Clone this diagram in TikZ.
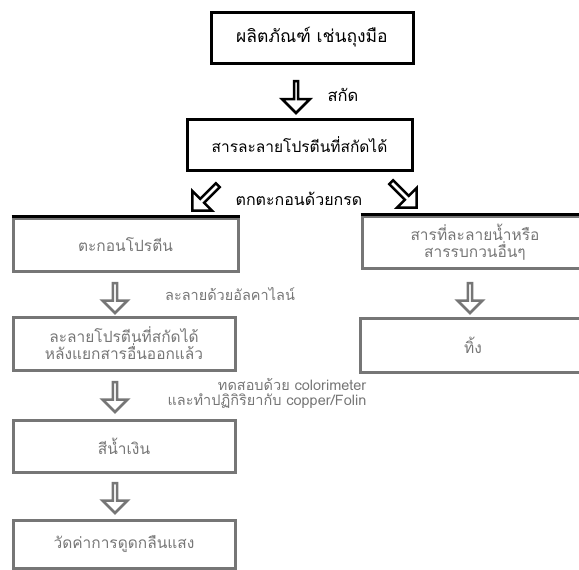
\documentclass[tikz,border=0pt]{standalone}
\usepackage{fontspec}
\newfontfamily\thaifont[Script=Thai]{Loma}
\usetikzlibrary{shapes.arrows}
\definecolor{pale}{HTML}{767676}
\tikzstyle{topbox} = [draw, line width=3pt, minimum width=225pt, minimum height=51pt, inner sep=2pt, align=center, font=\thaifont\fontsize{15.5}{17}\selectfont]
\tikzstyle{lowbox} = [topbox, draw=pale, text=pale]
\tikzstyle{blockdown} = [single arrow, draw, fill=white, line width=2.5pt, shape border rotate=270, minimum height=32pt, minimum width=28pt, single arrow head extend=7.5pt, inner sep=0pt]
\tikzstyle{slant} = [blockdown, shape border uses incircle, minimum height=36pt]
\tikzstyle{lowarrow} = [blockdown, draw=pale, minimum height=30pt, minimum width=25pt, single arrow head extend=6.5pt]
\tikzstyle{lbl} = [font=\thaifont\fontsize{14.5}{15}\selectfont, align=center, inner sep=1pt]

\begin{document}
\begin{tikzpicture}[x=1pt, y=-1pt]
    \useasboundingbox (0,0) rectangle (579,570);

      % Top of the chart
      \node[topbox, minimum width=202pt, font=\thaifont\fontsize{17.5}{19}\selectfont] (glove) at (312,37.5) {ผลิตภัณฑ์ เช่นถุงมือ};
      \node[blockdown] (ar1) at (296,96) {};
      \node[lbl, font=\thaifont\fontsize{16.5}{18}\selectfont] (extract) at (343,95) {สกัด};
      \node[topbox] (soln) at (299.5,144.5) {สารละลายโปรตีนที่สกัดได้};

      % Split
      \node[slant, shape border rotate=225] (arl) at (206,197) {};
      \node[lbl, font=\thaifont\fontsize{16}{18}\selectfont] (acid) at (299,199) {ตกตะกอนด้วยกรด};
      \node[slant, shape border rotate=315] (arr) at (403,194) {};

      % Left column
      \node[lowbox, minimum height=53pt] (prec) at (125.5,244.5) {ตะกอนโปรตีน};
      \draw[line width=3pt] (prec.north west) -- (prec.north east);
      \node[lowarrow] (ar2) at (115,297) {};
      \node[lbl, text=pale] (alkali) at (230,294) {ละลายด้วยอัลคาไลน์};
      \node[lowbox, minimum width=222pt, minimum height=53pt] (clean) at (124,343.5) {ละลายโปรตีนที่สกัดได้\\หลังแยกสารอื่นออกแล้ว};
      \node[lowarrow] (ar3) at (115,396) {};
      \node[lbl, text=pale, align=right] (color) at (267,393) {ทดสอบด้วย colorimeter\\และทำปฏิกิริยากับ copper/Folin};
      \node[lowbox, minimum width=222pt, minimum height=52pt] (blue) at (124,446) {สีน้ำเงิน};
      \node[lowarrow] (ar4) at (115,497) {};
      \node[lowbox, minimum width=222pt, minimum height=48pt] (absorb) at (124,544) {วัดค่าการดูดกลืนแสง};

      % Right column
      \node[lowbox, minimum width=226pt, minimum height=52pt] (waste) at (475,242) {สารที่ละลายน้ำหรือ\\สารรบกวนอื่นๆ};
      \draw[line width=3pt] (waste.north west) -- (waste.north east);
      \node[lowarrow] (ar5) at (470,297) {};
      \node[lowbox, minimum width=226pt, minimum height=54pt] (discard) at (473,345) {ทิ้ง};

  \end{tikzpicture}
\end{document}
